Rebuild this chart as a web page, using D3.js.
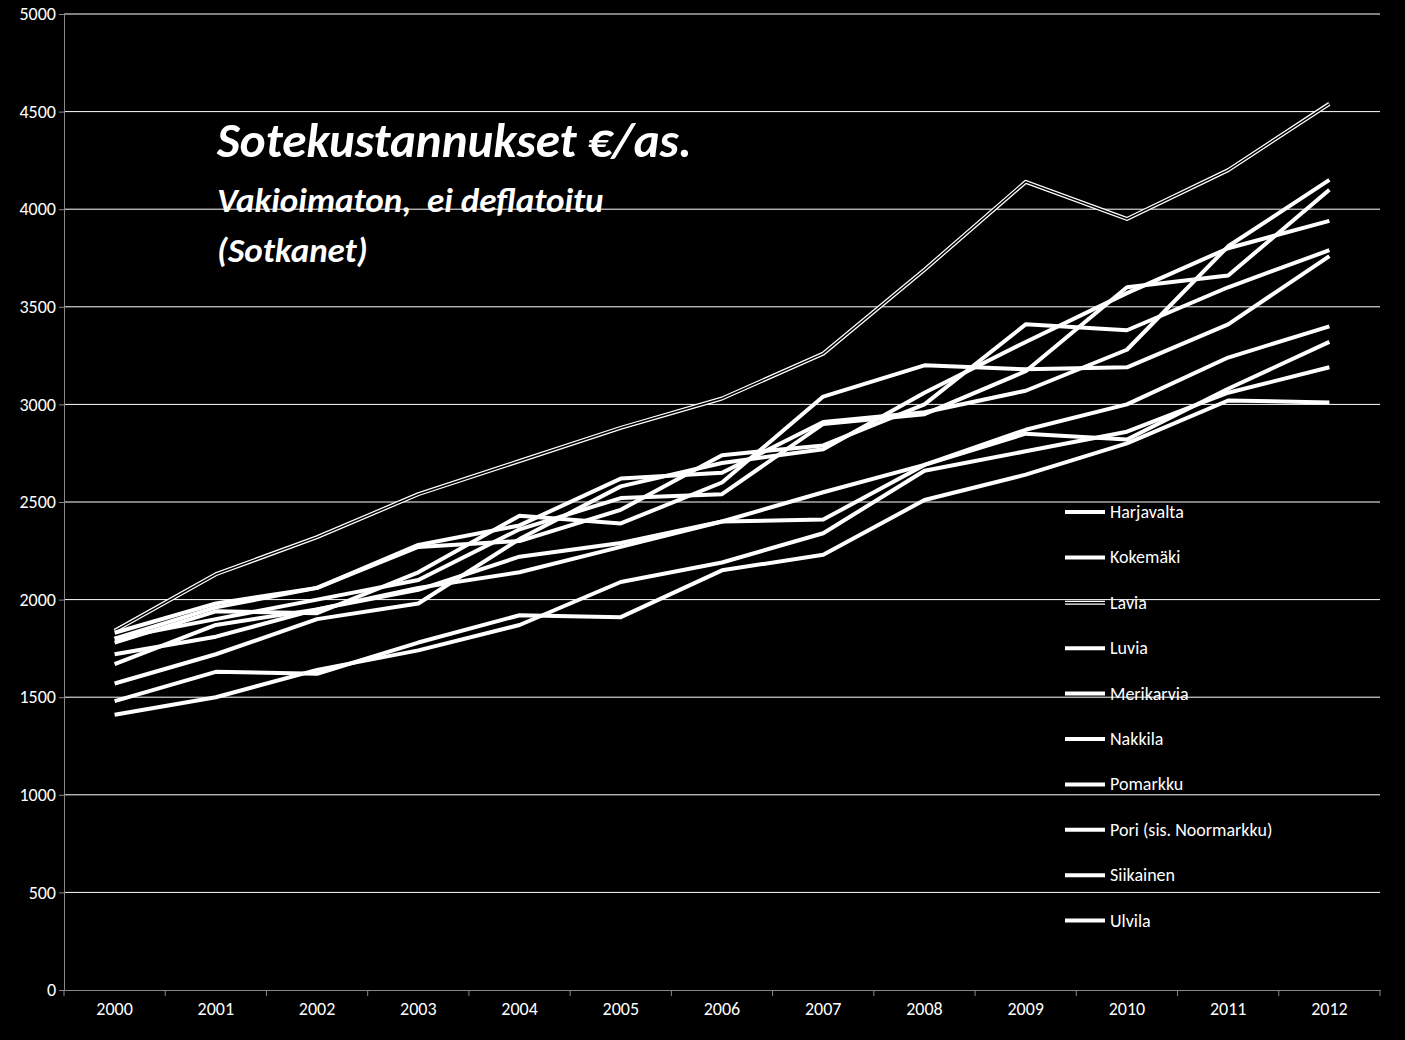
<!DOCTYPE html><html><head><meta charset="utf-8"><script src="https://cdn.jsdelivr.net/npm/d3@7"></script>
<style>body{margin:0;background:#000}</style></head><body><svg id="c" width="1405" height="1040"></svg><script>
const years=[2000,2001,2002,2003,2004,2005,2006,2007,2008,2009,2010,2011,2012];
const yTicks=[0,500,1000,1500,2000,2500,3000,3500,4000,4500,5000];
const names=["Harjavalta","Kokemäki","Lavia","Luvia","Merikarvia","Nakkila","Pomarkku","Pori (sis. Noormarkku)","Siikainen","Ulvila"];
const harjavalta=[1800,1960,2060,2270,2300,2460,2740,2790,3000,3410,3380,3600,3790];
const kokemaki=[1780,1940,1930,2140,2430,2390,2600,3040,3200,3180,3190,3410,3760];
const lavia=[1840,2130,2320,2540,2710,2880,3030,3260,3690,4140,3950,4200,4540];
const luvia=[1830,1980,2060,2280,2380,2620,2650,2910,2960,3070,3280,3810,4150];
const merikarvia=[1720,1810,1950,2050,2220,2290,2400,2410,2690,2870,3000,3240,3400];
const nakkila=[1670,1870,1950,2060,2140,2270,2400,2550,2690,2850,2820,3080,3320];
const pomarkku=[1570,1720,1900,1980,2310,2580,2700,2770,3060,3320,3570,3800,3940];
const pori=[1800,1900,2000,2100,2360,2520,2540,2900,2950,3170,3600,3660,4100];
const siikainen=[1480,1630,1620,1780,1920,1910,2150,2230,2510,2640,2800,3020,3010];
const ulvila=[1410,1500,1640,1740,1870,2090,2190,2340,2660,2760,2860,3060,3190];
const series=[harjavalta,kokemaki,lavia,luvia,merikarvia,nakkila,pomarkku,pori,siikainen,ulvila];
const svg=d3.select("#c");
const L=64,R=1380,T=14,B=990;
const x=d3.scaleBand().domain(years).range([L,R]);
const y=d3.scaleLinear().domain([0,5000]).range([B,T]);
const f="Carlito, 'Open Sans', sans-serif";
svg.append("g").selectAll("line").data(yTicks.slice(1)).join("line")
 .attr("x1",L).attr("x2",R).attr("y1",d=>y(d)).attr("y2",d=>y(d)).attr("stroke","#fff").attr("stroke-width",1);
const ya=svg.append("g").attr("transform",`translate(${L},0)`).call(d3.axisLeft(y).tickValues(yTicks).tickSize(5).tickFormat(d3.format("d")));
const xa=svg.append("g").attr("transform",`translate(0,${B})`).call(d3.axisBottom(x).tickSize(0));
[ya,xa].forEach(a=>{a.selectAll("path,line").attr("stroke","#888");a.selectAll("text").attr("fill","#fff").attr("font-size",18).attr("font-family",f);});
xa.selectAll("text").attr("dy",22);
svg.append("g").selectAll("line").data(d3.range(years.length+1)).join("line")
 .attr("x1",i=>L+i*x.step()).attr("x2",i=>L+i*x.step()).attr("y1",B).attr("y2",B+6).attr("stroke","#888");
const line=d3.line().x((d,i)=>x(years[i])+x.bandwidth()/2).y(d=>y(d));
series.forEach((s,k)=>{
 svg.append("path").attr("d",line(s)).attr("fill","none").attr("stroke","#fff").attr("stroke-width",4).attr("stroke-linejoin","round");
 if(k===2) svg.append("path").attr("d",line(s)).attr("fill","none").attr("stroke","#000").attr("stroke-width",1.5);
});
const lg=svg.append("g");
names.forEach((n,i)=>{
 const yy=512+i*45.4;
 lg.append("line").attr("x1",1065).attr("x2",1105).attr("y1",yy).attr("y2",yy).attr("stroke","#fff").attr("stroke-width",4);
 if(i===2) lg.append("line").attr("x1",1065).attr("x2",1105).attr("y1",yy).attr("y2",yy).attr("stroke","#000").attr("stroke-width",1.5);
 lg.append("text").attr("x",1110).attr("y",yy+6).text(n).attr("fill","#fff").attr("font-size",18).attr("font-family",f);
});
const t=svg.append("g").attr("fill","#fff").attr("font-family",f).attr("font-style","italic").attr("font-weight","bold");
t.append("text").attr("x",217).attr("y",157).attr("font-size",49).text("Sotekustannukset €/as.");
t.append("text").attr("x",217).attr("y",212).attr("font-size",35).text("Vakioimaton,  ei deflatoitu").attr("xml:space","preserve").style("white-space","pre");
t.append("text").attr("x",217).attr("y",262).attr("font-size",35).text("(Sotkanet)");
</script></body></html>
